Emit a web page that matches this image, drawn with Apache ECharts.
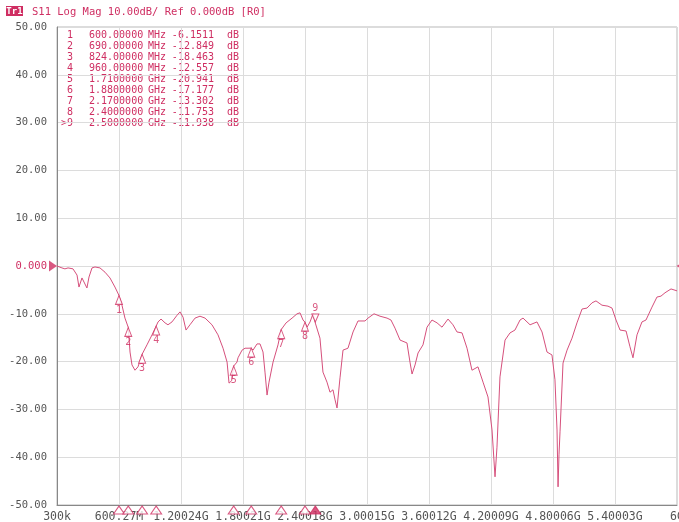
<!DOCTYPE html>
<html><head><meta charset="utf-8">
<script src="https://cdn.jsdelivr.net/npm/echarts@6/dist/echarts.min.js"></script>
<style>html,body{margin:0;padding:0;background:#fff;}#c{width:679px;height:522px;}</style>
</head><body><div id="c"></div>
<script>
// ---- data ----
const startMHz = 0.3;
const stepMHz = 599.97;
const xTickLabels = ['300k','600.27M','1.20024G','1.80021G','2.40018G','3.00015G','3.60012G','4.20009G','4.80006G','5.40003G','6G'];
const freqMHz = [0.3,48,77,107,155,194,213,242,261,290,310,339,368,416,465,513,561,600,629,658,690,707,726,755,784,824,871,920,960,978,1007,1046,1074,1113,1162,1191,1220,1249,1287,1336,1384,1433,1500,1558,1607,1646,1665,1690,1710,1742,1752,1791,1820,1849,1880,1897,1936,1965,1994,2013,2033,2052,2091,2139,2170,2217,2275,2323,2352,2381,2400,2420,2449,2478,2500,2545,2574,2613,2642,2671,2691,2710,2739,2768,2816,2865,2913,2981,3010,3068,3126,3194,3232,3271,3320,3387,3416,3436,3465,3494,3542,3581,3629,3678,3726,3784,3832,3871,3920,3968,4016,4074,4123,4171,4210,4239,4258,4287,4336,4384,4432,4481,4510,4578,4645,4694,4742,4790,4819,4839,4849,4858,4868,4897,4936,4984,5032,5081,5129,5178,5216,5274,5332,5371,5410,5449,5507,5545,5574,5613,5661,5700,5758,5806,5845,5884,5942,6000];
const s11dB = [0,-0.4,-0.6,-0.4,-0.6,-1.9,-4.4,-2.5,-2.9,-4.6,-2.3,-0.4,-0.2,-0.4,-1.3,-2.5,-4.4,-6.15,-8.2,-10.9,-12.85,-18.0,-20.7,-21.8,-21.1,-18.46,-16.5,-14.4,-12.56,-11.7,-11.1,-11.9,-12.3,-11.7,-10.3,-9.6,-10.7,-13.4,-12.3,-10.9,-10.5,-10.9,-12.3,-14.4,-17.2,-20.1,-24.5,-24.0,-20.94,-20.1,-19.2,-17.6,-17.2,-17.2,-17.18,-17.6,-16.3,-16.3,-18.0,-22.2,-27.0,-24.3,-20.1,-16.5,-13.3,-11.9,-10.9,-10.0,-9.8,-11.3,-11.75,-12.8,-11.7,-10.0,-11.94,-15.1,-22.2,-24.3,-26.4,-25.9,-28.0,-29.7,-23.4,-17.6,-17.2,-13.8,-11.5,-11.5,-10.9,-10.0,-10.5,-10.9,-11.3,-13.0,-15.5,-16.1,-20.1,-22.6,-20.7,-18.2,-16.5,-12.8,-11.3,-11.9,-12.8,-11.1,-12.3,-13.8,-14.0,-17.2,-21.8,-21.1,-24.3,-27.4,-34.3,-44.1,-37.9,-23.2,-15.5,-14.0,-13.4,-11.3,-10.9,-12.3,-11.7,-13.8,-18.0,-18.6,-23.8,-34.3,-46.2,-39.5,-34.7,-20.3,-17.6,-15.1,-11.9,-9.0,-8.8,-7.7,-7.3,-8.2,-8.4,-8.8,-11.3,-13.4,-13.6,-16.9,-19.2,-14.4,-11.7,-11.3,-8.6,-6.5,-6.3,-5.6,-4.8,-5.2];
const markerIds = ['1','2','3','4','5','6','7','8','9'];
const markerMHz = [600,690,824,960,1710,1880,2170,2400,2500];
const markerDB = [-6.1511,-12.849,-18.463,-12.557,-20.941,-17.177,-13.302,-11.753,-11.938];
const markerFreqText = ['600.00000','690.00000','824.00000','960.00000','1.7100000','1.8800000','2.1700000','2.4000000','2.5000000'];
const markerUnitText = ['MHz','MHz','MHz','MHz','GHz','GHz','GHz','GHz','GHz'];
const markerDBText = ['-6.1511','-12.849','-18.463','-12.557','-20.941','-17.177','-13.302','-11.753','-11.938'];
const activeMarker = 8;
const titleText = 'S11 Log Mag 10.00dB/ Ref 0.000dB [R0]';

// ---- styles ----
const RED = '#cf2e62';
const TRACE = '#d6507c';
const MONO = 'DejaVu Sans Mono';
const toDiv = f => (f - startMHz) / stepMHz;

const chart = echarts.init(document.getElementById('c'), null, {renderer:'canvas'});

const traceData = freqMHz.map((f,i)=>[toDiv(f), s11dB[i]]);
const passiveMk = [], activeMk = [], bottomMk = [];
markerMHz.forEach((f,i)=>{
  const p = {value:[toDiv(f), markerDB[i]], name: markerIds[i]};
  if (i === activeMarker) activeMk.push(p); else passiveMk.push(p);
  bottomMk.push({value:[toDiv(f), -50], itemStyle: i===activeMarker ? {color:RED} : {color:'#fff'}});
});

const graphics = [
  {type:'rect', shape:{x:6,y:6,width:17,height:10}, style:{fill:RED}},
  {type:'text', x:14.5, y:11.5, style:{text:'Tr1', fill:'#fff', font:'bold 9px '+MONO, textAlign:'center', textVerticalAlign:'middle'}},
  {type:'text', x:32, y:12, style:{text:titleText, fill:RED, font:'10.5px '+MONO, textVerticalAlign:'middle'}}
];
markerIds.forEach((id,i)=>{
  const y = 35 + i*11.1;
  const f = '10px '+MONO;
  graphics.push({type:'text', x:73, y:y, style:{text:(i===activeMarker?'>':'')+id, fill:RED, font:f, textAlign:'right', textVerticalAlign:'middle'}});
  graphics.push({type:'text', x:89, y:y, style:{text:markerFreqText[i], fill:RED, font:f, textVerticalAlign:'middle'}});
  graphics.push({type:'text', x:148, y:y, style:{text:markerUnitText[i], fill:RED, font:f, textVerticalAlign:'middle'}});
  graphics.push({type:'text', x:214, y:y, style:{text:markerDBText[i], fill:RED, font:f, textAlign:'right', textVerticalAlign:'middle'}});
  graphics.push({type:'text', x:227, y:y, style:{text:'dB', fill:RED, font:f, textVerticalAlign:'middle'}});
});

chart.setOption({
  animation:false,
  backgroundColor:'#fff',
  grid:{left:57, right:2, top:27, bottom:17, show:true, borderColor:'#b8b8b8', borderWidth:1, containLabel:false, outerBoundsMode:'none'},
  xAxis:{type:'value', min:0, max:10, interval:1,
    axisLine:{show:true, onZero:false, lineStyle:{color:'#888'}}, axisTick:{show:false},
    splitLine:{lineStyle:{color:'#dcdcdc'}},
    axisLabel:{color:'#555', fontFamily:MONO, fontSize:11.5, margin:6, formatter:v=>xTickLabels[Math.round(v)]}},
  yAxis:{type:'value', min:-50, max:50, interval:10,
    axisLine:{show:true, onZero:false, lineStyle:{color:'#888'}}, axisTick:{show:false},
    splitLine:{lineStyle:{color:'#dcdcdc'}},
    axisLabel:{color:'#555', fontFamily:MONO, fontSize:10.5, margin:10,
      formatter:v=> v===0 ? '{r|0.000}' : v.toFixed(2),
      rich:{r:{color:RED, fontFamily:MONO, fontSize:10.5}}}},
  graphic:graphics,
  series:[
    {type:'line', data:traceData, showSymbol:false, symbol:'none', lineStyle:{color:TRACE, width:1}, z:3},
    {type:'scatter', data:passiveMk, symbol:'triangle', symbolSize:[7,9], symbolOffset:[0,4.5],
      itemStyle:{color:'#fff', borderColor:RED, borderWidth:1}, z:4,
      label:{show:true, position:'bottom', distance:0, formatter:p=>p.name, color:RED, fontFamily:MONO, fontSize:10}},
    {type:'scatter', data:activeMk, symbol:'triangle', symbolRotate:180, symbolSize:[7,8], symbolOffset:[0,-5],
      itemStyle:{color:'#fff', borderColor:RED, borderWidth:1}, z:4,
      label:{show:true, position:'top', distance:0, formatter:p=>p.name, color:RED, fontFamily:MONO, fontSize:10}},
    {type:'scatter', data:bottomMk, symbol:'triangle', symbolSize:[11,8], symbolOffset:[0,5], clip:false,
      itemStyle:{borderColor:RED, borderWidth:1}, z:5, silent:true},
    {type:'scatter', data:[[0,0]], symbol:'triangle', symbolRotate:-90, symbolSize:[11,8], symbolOffset:[-4,0], clip:false,
      itemStyle:{color:RED}, z:5},
    {type:'scatter', data:[[10,0]], symbol:'triangle', symbolRotate:90, symbolSize:[9,7], symbolOffset:[3,0], clip:false,
      itemStyle:{color:RED}, z:5}
  ]
});
</script></body></html>
